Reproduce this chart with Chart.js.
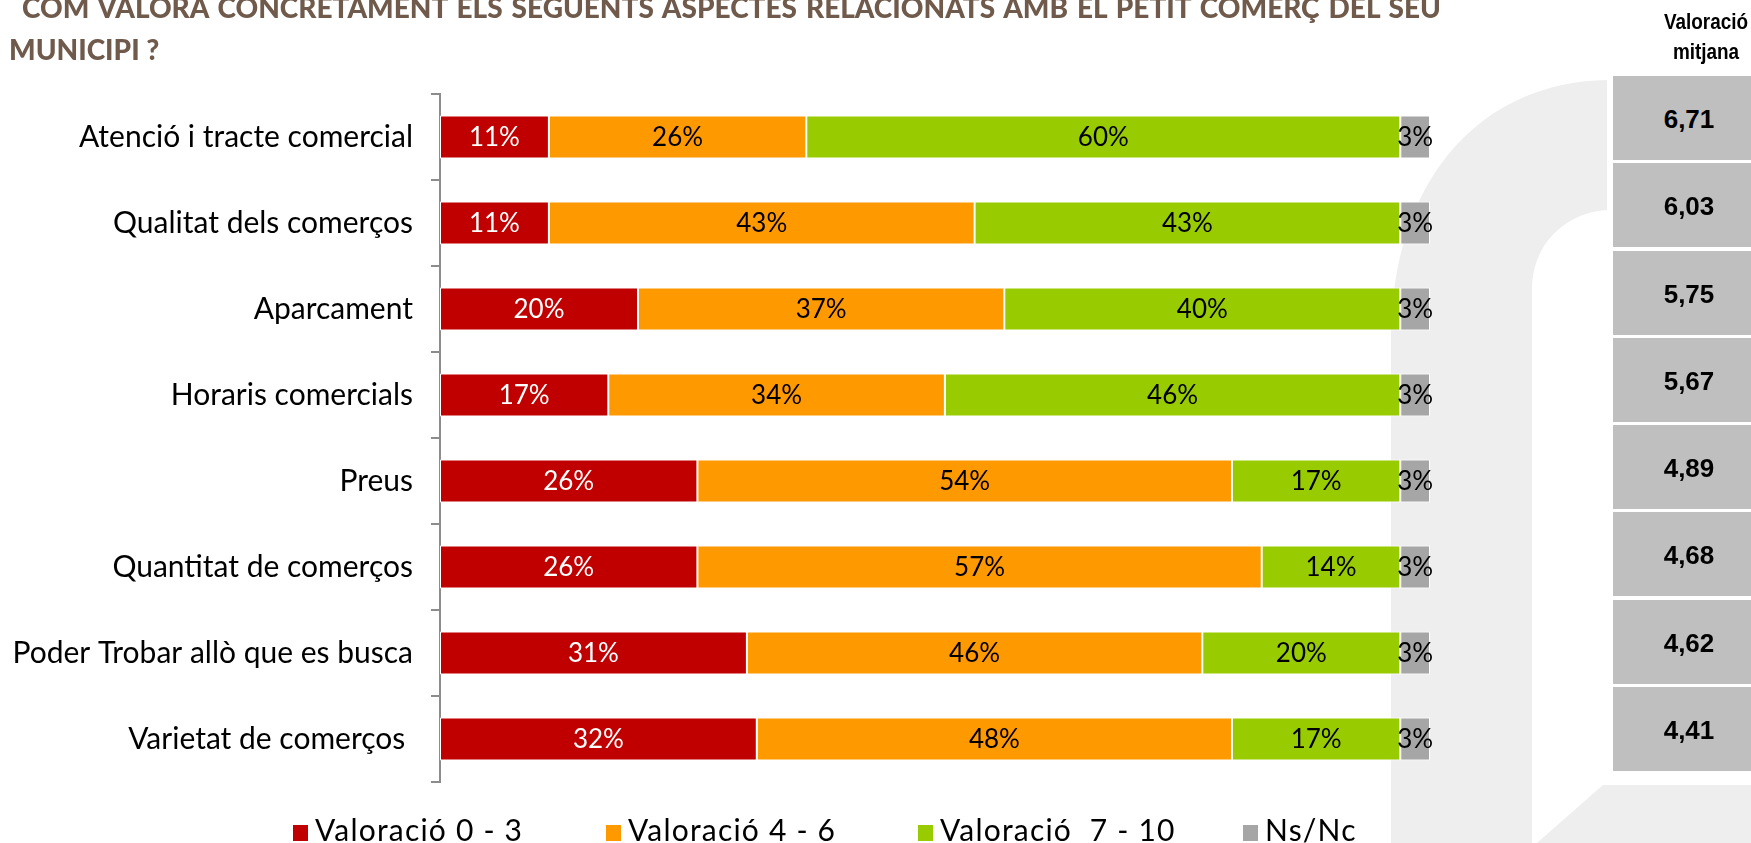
<!DOCTYPE html>
<html>
<head>
<meta charset="utf-8">
<script src="https://cdn.jsdelivr.net/npm/chart.js@4.4.1/dist/chart.umd.min.js"></script>
<style>
  html, body { margin:0; padding:0; background:#fff; }
  #stage { position:relative; width:1751px; height:843px; overflow:hidden; background:#fff; }
  #wm { position:absolute; left:0; top:0; }
  #chartWrap { position:absolute; left:0; top:0; width:1751px; height:843px; }
  .title { position:absolute; font-family:"Lato", sans-serif; font-weight:900; font-size:28px; line-height:33.6px; color:#6F5A4B; }
  #t1 { left:22px; top:-8.6px; width:1419px; text-align:justify; text-align-last:justify; }
  #t2 { left:9px; top:33.4px; }
  #hdr { position:absolute; left:1626px; width:160px; top:7px; text-align:center; font-family:"Liberation Sans", Arial, sans-serif; font-weight:700; font-size:22px; line-height:30px; color:#000; transform:scaleX(0.86); transform-origin:50% 0; }
  .box { position:absolute; left:1613px; width:152px; height:84px; line-height:86px; background:#BFBFBF; text-align:center; font-family:"Liberation Sans", Arial, sans-serif; font-weight:700; font-size:26px; color:#000; }
  .lg { position:absolute; top:811px; height:36px; }
  .lg .sw { position:absolute; left:0; top:14px; width:15px; height:16px; }
  .lg .tx { position:absolute; left:22px; top:0; white-space:pre; font-family:"Lato", sans-serif; font-size:30px; line-height:36px; letter-spacing:1.2px; color:#000; }
</style>
</head>
<body>
<div id="stage">
  <svg id="wm" width="1751" height="843" xmlns="http://www.w3.org/2000/svg">
    <path d="M 1391 843 L 1391 340 C 1391 180 1480 82 1607 80 L 1607 210 C 1570 212 1532 240 1532 290 L 1532 843 Z" fill="#EEEEEE"/>
    <path d="M 1603 785 L 1751 785 L 1751 843 L 1537 843 Z" fill="#EEEEEE"/>
    <rect x="1607" y="72" width="144" height="711" fill="#FFFFFF"/>
  </svg>
  <div id="chartWrap"><canvas id="c" width="1751" height="843"></canvas></div>
  <div class="title" id="t1">COM VALORA CONCRETAMENT ELS SEGUENTS ASPECTES RELACIONATS AMB EL PETIT COMERÇ DEL SEU</div>
  <div class="title" id="t2">MUNICIPI ?</div>
  <div id="hdr">Valoració<br>mitjana</div>
  <div id="panel"></div>
  <div id="legend"></div>
</div>
<script>
// ---- data ----
const categories = [
  "Atenció i tracte comercial",
  "Qualitat dels comerços",
  "Aparcament",
  "Horaris comercials",
  "Preus",
  "Quantitat de comerços",
  "Poder Trobar allò que es busca",
  "Varietat de comerços "
];
const val0to3  = [11, 11, 20, 17, 26, 26, 31, 32];
const val4to6  = [26, 43, 37, 34, 54, 57, 46, 48];
const val7to10 = [60, 43, 40, 46, 17, 14, 20, 17];
const valNsNc  = [3, 3, 3, 3, 3, 3, 3, 3];
const averages = [6.71, 6.03, 5.75, 5.67, 4.89, 4.68, 4.62, 4.41];
const seriesNames  = ["Valoració 0 - 3", "Valoració 4 - 6", "Valoració  7 - 10", "Ns/Nc"];
const seriesColors = ["#C00000", "#FF9900", "#99CC00", "#A6A6A6"];
const labelColors  = ["#FFFFFF", "#000000", "#000000", "#000000"];

// ---- right panel (built from averages) ----
const panel = document.getElementById('panel');
averages.forEach((v, i) => {
  const d = document.createElement('div');
  d.className = 'box';
  d.style.top = (76 + i * 87.25) + 'px';
  d.textContent = v.toFixed(2).replace('.', ',');
  panel.appendChild(d);
});

// ---- legend (built from series) ----
const legendX = [293, 606, 918, 1243];
const legend = document.getElementById('legend');
seriesNames.forEach((n, i) => {
  const it = document.createElement('div');
  it.className = 'lg';
  it.style.left = legendX[i] + 'px';
  const sw = document.createElement('div'); sw.className = 'sw'; sw.style.background = seriesColors[i];
  const tx = document.createElement('div'); tx.className = 'tx'; tx.textContent = n;
  it.appendChild(sw); it.appendChild(tx);
  legend.appendChild(it);
});

// ---- chart ----
const seriesData = [val0to3, val4to6, val7to10, valNsNc];
const datasets = seriesData.map((d, i) => ({
  label: seriesNames[i],
  data: d,
  backgroundColor: seriesColors[i],
  borderColor: '#FFFFFF',
  borderWidth: 1,
  borderSkipped: false,
  barPercentage: 0.5,
  categoryPercentage: 1.0
}));

const valueLabels = {
  id: 'valueLabels',
  afterDatasetsDraw(chart) {
    const ctx = chart.ctx;
    ctx.save();
    ctx.font = '26px Lato, sans-serif';
    ctx.textAlign = 'center';
    ctx.textBaseline = 'middle';
    chart.data.datasets.forEach((ds, di) => {
      const meta = chart.getDatasetMeta(di);
      ctx.fillStyle = labelColors[di];
      meta.data.forEach((el, i) => {
        const v = ds.data[i];
        ctx.fillText(v + '%', (el.x + el.base) / 2, el.y + 1);
      });
    });
    ctx.restore();
  }
};

new Chart(document.getElementById('c'), {
  type: 'bar',
  data: { labels: categories, datasets },
  options: {
    indexAxis: 'y',
    responsive: false,
    animation: false,
    layout: { padding: { left: 0, right: 321, top: 94, bottom: 61 } },
    plugins: { legend: { display: false }, tooltip: { enabled: false }, title: { display: false } },
    scales: {
      x: { stacked: true, min: 0, max: 100, display: false },
      y: {
        stacked: true,
        afterFit(scale) { scale.width = 440; },
        grid: { display: true, drawOnChartArea: false, drawTicks: true, tickLength: 9, color: '#8C8C8C', lineWidth: 2, offset: true },
        border: { display: true, color: '#8C8C8C', width: 2 },
        ticks: { autoSkip: false, padding: 18, color: '#000000', font: { family: 'Lato', size: 30 } }
      }
    }
  },
  plugins: [valueLabels]
});
</script>
</body>
</html>
